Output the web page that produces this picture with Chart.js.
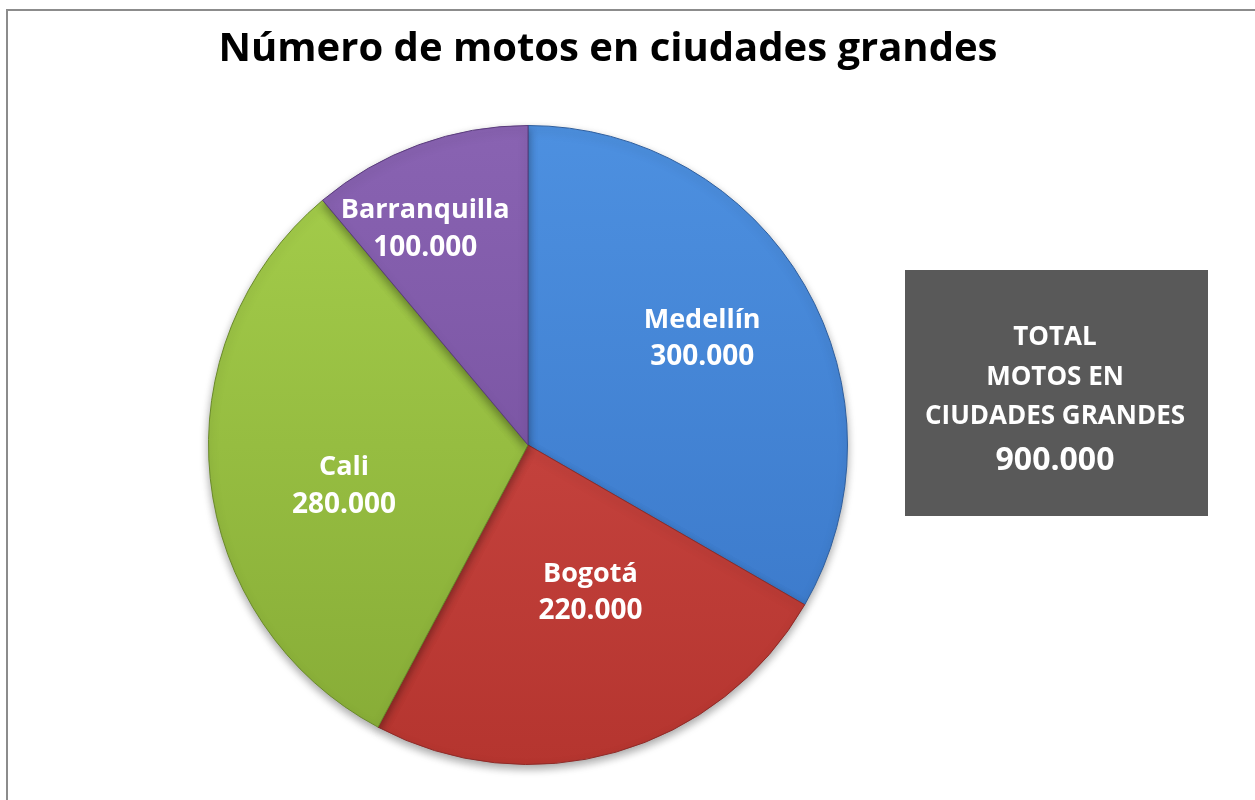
<!DOCTYPE html>
<html>
<head>
<meta charset="utf-8">
<script src="https://cdn.jsdelivr.net/npm/chart.js@4/dist/chart.umd.min.js"></script>
<style>
  html, body { margin: 0; padding: 0; background: #fff; }
  #wrap { position: relative; width: 1255px; height: 800px; }
</style>
</head>
<body>
<div id="wrap"><canvas id="grafico"></canvas></div>
<script>
// Número de motos en ciudades grandes

var ciudades = ["Medellín", "Bogotá", "Cali", "Barranquilla"];
var motos = [300000, 220000, 280000, 100000];
var etiquetasValor = ["300.000", "220.000", "280.000", "100.000"];
var tituloTexto = "Número de motos en ciudades grandes";
var totalLineas = ["TOTAL", "MOTOS EN", "CIUDADES GRANDES"];
var totalValor = "900.000";

// colores: claro arriba, oscuro abajo
var coloresClaros = ["#4d90e0", "#d24e4a", "#a6cf4c", "#8963b2"];
var coloresOscuros = ["#3875c6", "#b5352f", "#86ab36", "#6f4a98"];
var bordes = ["#2f5f9e", "#8f2a27", "#6a8a2a", "#5a3c7c"];

// posicion de la etiqueta: fracción del radio y giro en grados
var radioEtiqueta = [0.64, 0.5, 0.59, 0.75];
var giroEtiqueta = [-1.6, -7, -6.5, -5.4];

function relleno(context) {
  var chart = context.chart;
  var area = chart.chartArea;
  if (!area) return coloresClaros[context.dataIndex];
  var g = chart.ctx.createLinearGradient(0, area.top, 0, area.bottom);
  g.addColorStop(0, coloresClaros[context.dataIndex]);
  g.addColorStop(1, coloresOscuros[context.dataIndex]);
  return g;
}

var sombra = {
  id: 'sombra',
  beforeDatasetsDraw: function (chart) {
    var ctx = chart.ctx;
    ctx.save();
    ctx.shadowColor = 'rgba(0,0,0,0.35)';
    ctx.shadowBlur = 8;
    ctx.shadowOffsetY = 4;
  },
  afterDatasetsDraw: function (chart) {
    chart.ctx.restore();
  }
};

var decorado = {
  id: 'decorado',
  beforeDraw: function (chart) {
    var ctx = chart.ctx;
    ctx.save();
    ctx.strokeStyle = '#8c8c8c';
    ctx.lineWidth = 2;
    ctx.strokeRect(7, 10, 1300, 850);
    ctx.restore();
  },
  afterDraw: function (chart) {
    var ctx = chart.ctx;
    ctx.save();
    // titulo
    ctx.fillStyle = '#000';
    ctx.textAlign = 'center';
    ctx.textBaseline = 'middle';
    ctx.font = 'bold 40px "Open Sans"';
    ctx.fillText(tituloTexto, 608, 50);

    // etiquetas de las porciones
    var meta = chart.getDatasetMeta(0);
    ctx.fillStyle = '#fff';
    meta.data.forEach(function (arc, i) {
      var p = arc.getProps(['x', 'y', 'startAngle', 'endAngle', 'outerRadius'], true);
      var a = (p.startAngle + p.endAngle) / 2 + giroEtiqueta[i] * Math.PI / 180;
      var r = p.outerRadius * radioEtiqueta[i];
      var x = p.x + Math.cos(a) * r;
      var y = p.y + Math.sin(a) * r;
      ctx.font = 'bold 27px "Open Sans"';
      ctx.fillText(ciudades[i], x, y - 18);
      ctx.font = 'bold 28px "Open Sans"';
      ctx.fillText(etiquetasValor[i], x, y + 19);
    });

    // recuadro del total
    ctx.fillStyle = '#595959';
    ctx.fillRect(905, 270, 303, 246);
    ctx.fillStyle = '#fff';
    ctx.font = 'bold 26px "Open Sans"';
    ctx.fillText(totalLineas[0], 1055, 338);
    ctx.fillText(totalLineas[1], 1055, 378);
    ctx.fillText(totalLineas[2], 1055, 417);
    ctx.font = 'bold 32px "Open Sans"';
    ctx.fillText(totalValor, 1055, 461);
    ctx.restore();
  }
};

new Chart(document.getElementById("grafico"), {
  type: 'pie',
  data: {
    labels: ciudades,
    datasets: [
      {
        label: "Motos",
        data: motos,
        backgroundColor: relleno,
        borderColor: bordes,
        borderWidth: 1
      }
    ]
  },
  options: {
    responsive: true,
    maintainAspectRatio: false,
    animation: false,
    layout: {
      padding: { top: 125, bottom: 35, left: 208, right: 407 }
    },
    plugins: {
      legend: { display: false },
      title: { display: false },
      tooltip: { enabled: false }
    }
  },
  plugins: [sombra, decorado]
});
</script>
</body>
</html>
